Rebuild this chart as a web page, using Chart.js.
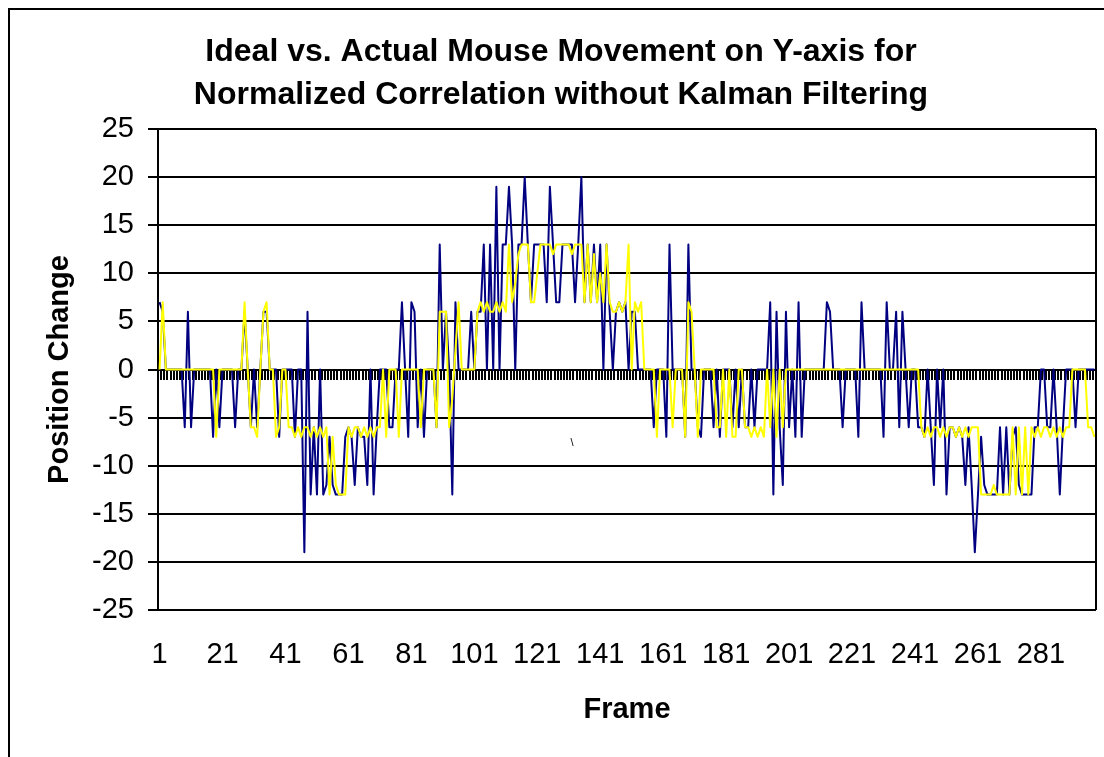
<!DOCTYPE html>
<html>
<head>
<meta charset="utf-8">
<title>Ideal vs. Actual Mouse Movement</title>
<script src="https://cdn.jsdelivr.net/npm/chart.js@4/dist/chart.umd.min.js"></script>
<style>
  html, body { margin: 0; padding: 0; background: #fff; }
  #wrap { width: 1104px; height: 757px; position: relative; }
</style>
</head>
<body>
<div id="wrap"><canvas id="chart"></canvas></div>
<script>
// frame numbers 1..298 (category axis)
const frames = Array.from({ length: 298 }, (_, i) => String(i + 1));
const shownFrames = ['1', '21', '41', '61', '81', '101', '121', '141', '161', '181', '201', '221', '241', '261', '281'];
const yTicks = [-25, -20, -15, -10, -5, 0, 5, 10, 15, 20, 25];

// blue series (actual)
const actualY = [
  7, 6, 0, 0, 0, 0, 0, 0, -6, 6,
  -6, 0, 0, 0, 0, 0, 0, -7, 0, -6,
  0, 0, 0, 0, -6, 0, 0, 6, 0, -6,
  0, -6, 0, 6, 6, 0, 0, 0, -7, 0,
  0, 0, 0, -7, 0, 0, -19, 6, -13, -6,
  -13, 0, -13, -12, -7, -12, -13, -13, -13, -7,
  -6, -7, -12, -6, -7, -7, -12, 0, -13, -6,
  0, 0, 0, -6, -6, 0, 0, 7, 0, -7,
  7, 6, -6, 0, -7, 0, 0, 0, -6, 13,
  0, 6, 0, -13, 7, 0, 0, 0, 0, 6,
  0, 6, 6, 13, 0, 13, 0, 19, 0, 13,
  13, 19, 13, 0, 13, 13, 20, 13, 7, 13,
  13, 13, 13, 7, 19, 13, 7, 7, 13, 13,
  13, 13, 7, 13, 20, 7, 13, 7, 13, 7,
  13, 0, 13, 6, 0, 6, 7, 6, 7, 0,
  6, 6, 0, 0, 0, 0, 0, -6, 0, 0,
  0, -7, 13, 0, 0, 0, 0, -7, 13, 0,
  0, -6, -7, 0, 0, 0, -6, 0, -7, 0,
  0, 0, -6, 0, -6, 0, -6, -6, 0, -6,
  0, 0, 0, 0, 7, -13, 6, -6, -12, 6,
  -6, 0, -7, 7, -7, 0, 0, 0, 0, 0,
  0, 0, 7, 6, 0, 0, 0, -6, 0, 0,
  0, 0, -7, 7, 0, 0, 0, 0, 0, 0,
  -7, 7, 0, 0, 6, -6, 6, 0, -6, 0,
  0, -6, -6, -7, 0, -6, -12, 0, -6, 0,
  -13, -6, -6, -7, -6, -7, -12, -6, -12, -19,
  -13, -7, -12, -13, -13, -13, -13, -6, -13, -6,
  -13, -7, -6, -12, -13, -13, -13, -13, -6, -6,
  0, 0, -6, -6, 0, -6, -13, -6, 0, 0,
  0, -6, 0, 0, 0, 0, 0, 0
];

// yellow series (ideal)
const idealY = [
  0, 7, 0, 0, 0, 0, 0, 0, 0, 0,
  0, 0, 0, 0, 0, 0, 0, 0, -7, 0,
  0, 0, 0, 0, 0, 0, 0, 7, 0, -6,
  -6, -7, 0, 6, 7, 0, 0, -7, -6, 0,
  0, -6, -6, -7, -6, -7, -6, -6, -7, -6,
  -7, -6, -7, -6, -13, -7, -12, -13, -13, -13,
  -6, -7, -6, -6, -7, -6, -7, -6, -7, -6,
  -6, 0, -7, 0, 0, 0, -7, 0, 0, 0,
  0, 0, 0, -6, 0, 0, 0, 0, -6, 6,
  6, 6, -6, -3, 2, 7, 0, 0, 0, 0,
  0, 6, 7, 6, 7, 6, 6, 7, 6, 7,
  6, 13, 7, 9, 12, 13, 13, 13, 7, 7,
  10, 13, 13, 13, 13, 12, 13, 13, 13, 13,
  13, 12, 13, 13, 13, 7, 13, 7, 12, 7,
  10, 7, 13, 7, 6, 6, 7, 6, 7, 13,
  0, 7, 6, 7, 0, 0, 0, 0, -7, 0,
  0, 0, 0, -6, 0, 0, 0, -7, 7, 6,
  0, -7, 0, 0, 0, 0, 0, -6, -6, 0,
  -7, 0, -7, -7, 0, 0, -6, -6, -7, -6,
  -7, -6, -7, 0, -6, 0, -7, 0, -6, 0,
  0, 0, 0, 0, 0, 0, 0, 0, 0, 0,
  0, 0, 0, 0, 0, 0, 0, 0, 0, 0,
  0, 0, 0, 0, 0, 0, 0, 0, 0, 0,
  0, 0, 0, 0, 0, 0, 0, 0, 0, 0,
  0, 0, -6, -7, -6, -7, -6, -6, -7, -6,
  -7, -6, -6, -7, -6, -7, -6, -7, -6, -6,
  -6, -13, -13, -13, -13, -12, -13, -13, -13, -13,
  -13, -6, -13, -6, -13, -6, -13, -6, -7, -6,
  -7, -6, -6, -7, -6, -7, -6, -7, -6, -6,
  0, 0, 0, 0, 0, -6, -6, -7
];

const FONT = '"Liberation Sans", Arial, sans-serif';

// outer chart border, right edge of the plot, and the stray mark inside the plot
const framePlugin = {
  id: 'frame',
  afterDraw(chart) {
    const { ctx, chartArea } = chart;
    ctx.save();
    ctx.strokeStyle = '#000';
    ctx.lineWidth = 2;
    ctx.beginPath();
    ctx.moveTo(9, chart.height);
    ctx.lineTo(9, 9);
    ctx.lineTo(chart.width, 9);
    ctx.moveTo(chartArea.right, chartArea.top);
    ctx.lineTo(chartArea.right, chartArea.bottom);
    ctx.stroke();
    ctx.fillStyle = '#000';
    ctx.font = '11px ' + FONT;
    ctx.textAlign = 'center';
    ctx.textBaseline = 'middle';
    ctx.fillText('\\', 572, 443);
    ctx.restore();
  }
};

new Chart(document.getElementById('chart'), {
  type: 'line',
  data: {
    labels: frames,
    datasets: [
      {
        label: 'Actual',
        data: actualY,
        borderColor: '#000080',
        borderWidth: 2,
        borderJoinStyle: 'round',
        pointRadius: 0,
        tension: 0,
        order: 2
      },
      {
        label: 'Ideal',
        data: idealY,
        borderColor: '#FFFF00',
        borderWidth: 2,
        borderJoinStyle: 'round',
        pointRadius: 0,
        tension: 0,
        order: 1
      }
    ]
  },
  options: {
    responsive: true,
    maintainAspectRatio: false,
    animation: false,
    layout: { autoPadding: false, padding: { left: 26, right: 8, top: 30, bottom: 0 } },
    plugins: {
      legend: { display: false },
      tooltip: { enabled: false },
      title: {
        display: true,
        text: ['Ideal vs. Actual Mouse Movement on Y-axis for', 'Normalized Correlation without Kalman Filtering'],
        color: '#000',
        font: { family: FONT, size: 32, weight: 'bold', lineHeight: 1.36 },
        padding: { top: 0, bottom: 12 }
      }
    },
    scales: {
      x: {
        type: 'category',
        offset: true,
        // invisible tick length pushes the labels down without widening side padding
        grid: { display: false, drawTicks: true, tickLength: 28 },
        border: { display: false },
        ticks: {
          autoSkip: false,
          maxRotation: 0,
          padding: 0,
          color: '#000',
          font: { family: FONT, size: 29 },
          callback: (v, i) => shownFrames.includes(frames[i]) ? frames[i] : ''
        },
        title: {
          display: true,
          text: 'Frame',
          color: '#000',
          font: { family: FONT, size: 29, weight: 'bold' },
          padding: { top: 0, bottom: 30 }
        },
        afterFit: s => { s.height = 147; }
      },
      x0: {
        axis: 'x',
        type: 'category',
        position: { y: 0 },
        offset: true,
        grid: { offset: true, drawOnChartArea: false, drawTicks: true, tickLength: 10, lineWidth: 2, color: '#000', tickColor: '#000', tickWidth: 2 },
        border: { display: false },
        ticks: { display: false }
      },
      y: {
        min: -25,
        max: 25,
        afterBuildTicks: s => { s.ticks = yTicks.map(v => ({ value: v })); },
        grid: { color: '#000', lineWidth: 2, tickLength: 10 },
        border: { display: true, color: '#000', width: 2 },
        ticks: {
          padding: 14,
          color: '#000',
          font: { family: FONT, size: 29 }
        },
        title: {
          display: true,
          text: 'Position Change',
          color: '#000',
          font: { family: FONT, size: 29, weight: 'bold' },
          padding: { top: 17, bottom: 0 }
        },
        afterFit: s => { s.width = 132; }
      }
    }
  },
  plugins: [framePlugin]
});
</script>
</body>
</html>
